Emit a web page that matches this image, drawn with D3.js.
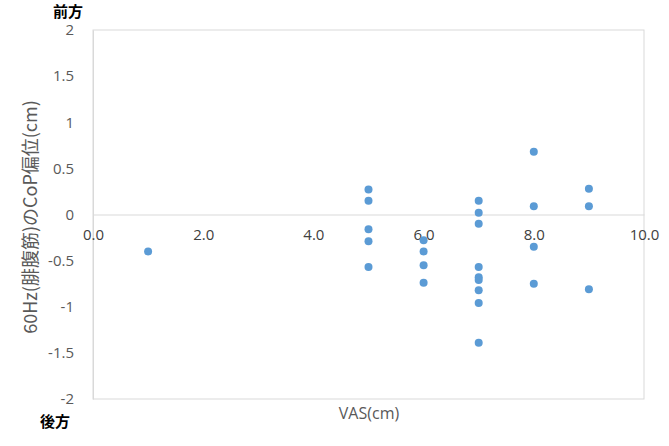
<!DOCTYPE html>
<html><head><meta charset="utf-8">
<script src="https://cdn.jsdelivr.net/npm/d3@7"></script>
<style>body{margin:0;background:#fff}svg{display:block}</style>
</head><body>
<script>
const vas = [1, 5,5,5,5,5, 6,6,6,6, 7,7,7,7,7,7,7,7,7, 8,8,8,8, 9,9,9];
const cop = [-0.40, 0.27,0.15,-0.16,-0.29,-0.57, -0.28,-0.40,-0.55,-0.74,
  0.15,0.02,-0.10,-0.57,-0.68,-0.71,-0.82,-0.96,-1.39, 0.68,0.09,-0.35,-0.75, 0.28,0.09,-0.81];
const xTicks = [0,2,4,6,8,10];
const yTicks = [-2,-1.5,-1,-0.5,0,0.5,1,1.5,2];

const W=669,H=446;
const svg=d3.select("body").append("svg").attr("width",W).attr("height",H);
const x=d3.scaleLinear().domain([0,10]).range([93,644]);
const y=d3.scaleLinear().domain([-2,2]).range([399,30]);
const font="'Open Sans', 'Liberation Sans', sans-serif";

svg.append("rect").attr("x",93).attr("y",30).attr("width",551).attr("height",369)
  .attr("fill","none").attr("stroke","#d9d9d9").attr("stroke-width",1);

// y axis
const ya=svg.append("g").attr("transform","translate(93,0)")
  .call(d3.axisLeft(y).tickValues(yTicks).tickSize(0).tickPadding(19).tickFormat(d=>d));
ya.select(".domain").attr("stroke","#d9d9d9");
ya.selectAll("text").attr("fill","#595959").style("font-family",font).style("font-size","15px");

// x axis at y=0
const xa=svg.append("g").attr("transform",`translate(0,${y(0)})`)
  .call(d3.axisBottom(x).tickValues(xTicks).tickSize(0).tickPadding(15).tickFormat(d3.format(".1f")));
xa.select(".domain").attr("stroke","#d9d9d9");
xa.selectAll("text").attr("fill","#404040").style("font-family",font).style("font-size","15px");

svg.append("g").selectAll("circle").data(vas.map((v,i)=>[v,cop[i]])).join("circle")
  .attr("cx",d=>x(d[0])).attr("cy",d=>y(d[1])).attr("r",4).attr("fill","#5b9bd5");

svg.append("text").attr("x",369).attr("y",419).attr("text-anchor","middle")
  .attr("fill","#595959").style("font-family",font).style("font-size","16px").text("VAS(cm)");
svg.append("text").attr("transform","translate(37,217) rotate(-90)").attr("text-anchor","middle")
  .attr("fill","#595959").style("font-family","'Noto Sans CJK JP', sans-serif").style("font-size","18px")
  .text("60Hz(腓腹筋)のCoP偏位(cm)");
svg.append("text").attr("x",53).attr("y",17).attr("fill","#000").attr("font-weight","bold")
  .style("font-family","'Noto Sans CJK JP', sans-serif").style("font-size","15px").text("前方");
svg.append("text").attr("x",40).attr("y",427).attr("fill","#000").attr("font-weight","bold")
  .style("font-family","'Noto Sans CJK JP', sans-serif").style("font-size","15px").text("後方");
</script>
</body></html>
